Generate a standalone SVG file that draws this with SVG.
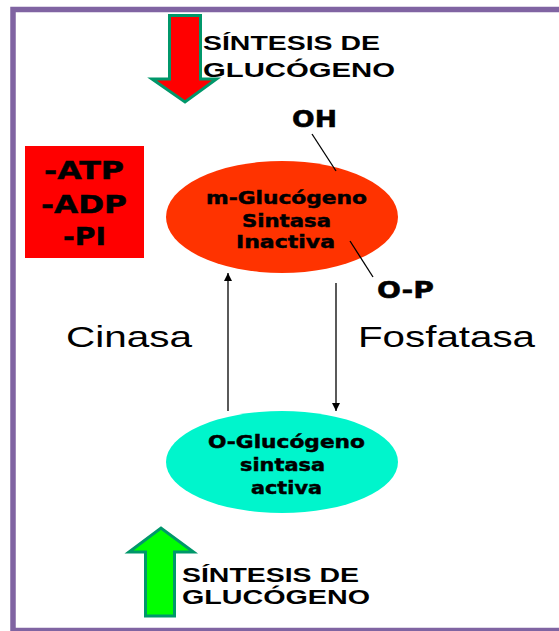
<svg xmlns="http://www.w3.org/2000/svg" width="559" height="631" viewBox="0 0 559 631">
<defs>
<style>
.t{font-family:"Liberation Sans",Arial,sans-serif;font-weight:bold;fill:#000}
.v{font-family:"DejaVu Sans",Verdana,sans-serif;font-weight:bold;fill:#000;stroke:#000;stroke-width:0.45}
.r{font-family:"Liberation Sans",Arial,sans-serif;font-weight:normal;fill:#000}
.ln{stroke:#000;stroke-width:1.3;fill:none}
.big{stroke:#00976A;stroke-width:3;stroke-linejoin:miter}
</style>
<marker id="ah" viewBox="0 0 10 10" refX="10" refY="5" markerWidth="8" markerHeight="8" markerUnits="userSpaceOnUse" orient="auto">
<path d="M0,0 L10,5 L0,10 z" fill="#000"/>
</marker>
</defs>
<rect x="0" y="0" width="559" height="631" fill="#fff"/>
<rect x="13" y="9.5" width="560" height="621" fill="none" stroke="#8064A2" stroke-width="5.5"/>

<g id="top-arrow">
<path class="big" d="M169.5,15.5 L200.5,15.5 L200.5,79 L216.5,79 L185,102 L152,79 L169.5,79 Z" fill="#FF0000"/>
<text class="t" x="203" y="50" font-size="21" textLength="177" lengthAdjust="spacingAndGlyphs">SÍNTESIS DE</text>
<text class="t" x="203" y="77" font-size="21" textLength="192" lengthAdjust="spacingAndGlyphs">GLUCÓGENO</text>
</g>

<g id="cofactors">
<rect x="25" y="146" width="119" height="112" fill="#FF0000"/>
<text class="v" x="84" y="179" font-size="25" text-anchor="middle" textLength="80" lengthAdjust="spacingAndGlyphs">-ATP</text>
<text class="v" x="84" y="213" font-size="25" text-anchor="middle" textLength="86" lengthAdjust="spacingAndGlyphs">-ADP</text>
<text class="v" x="84.5" y="245" font-size="25" text-anchor="middle" textLength="43" lengthAdjust="spacingAndGlyphs">-PI</text>
</g>

<g id="inactive">
<ellipse cx="282" cy="217" rx="116" ry="56" fill="#FF3300"/>
<text class="v" x="286.5" y="204" font-size="17" text-anchor="middle" textLength="161" lengthAdjust="spacingAndGlyphs">m-Glucógeno</text>
<text class="v" x="286.5" y="227" font-size="17" text-anchor="middle" textLength="89" lengthAdjust="spacingAndGlyphs">Sintasa</text>
<text class="v" x="285.5" y="248" font-size="17" text-anchor="middle" textLength="99" lengthAdjust="spacingAndGlyphs">Inactiva</text>
</g>

<g id="oh">
<text class="v" x="292" y="127" font-size="23" textLength="45" lengthAdjust="spacingAndGlyphs">OH</text>
</g>
<g id="op">
<text class="v" x="377" y="298" font-size="23" textLength="57" lengthAdjust="spacingAndGlyphs">O-P</text>
</g>

<g id="cinasa">
<text class="r" x="66" y="347" font-size="30" textLength="126" lengthAdjust="spacingAndGlyphs">Cinasa</text>
</g>
<g id="fosfatasa">
<text class="r" x="358" y="347" font-size="30" textLength="177" lengthAdjust="spacingAndGlyphs">Fosfatasa</text>
</g>

<g id="active">
<ellipse cx="282" cy="462" rx="116" ry="51" fill="#00F5CC"/>
<text class="v" x="286.5" y="448" font-size="17" text-anchor="middle" textLength="157" lengthAdjust="spacingAndGlyphs">O-Glucógeno</text>
<text class="v" x="282.5" y="471" font-size="17" text-anchor="middle" textLength="85" lengthAdjust="spacingAndGlyphs">sintasa</text>
<text class="v" x="286.5" y="494" font-size="17" text-anchor="middle" textLength="71" lengthAdjust="spacingAndGlyphs">activa</text>
</g>

<g id="bottom-arrow">
<path class="big" d="M145.5,616 L174.5,616 L174.5,552 L193.5,552 L161,528 L129,552 L145.5,552 Z" fill="#00FF00"/>
<text class="t" x="182" y="582" font-size="21" textLength="177" lengthAdjust="spacingAndGlyphs">SÍNTESIS DE</text>
<text class="t" x="182" y="604" font-size="21" textLength="188" lengthAdjust="spacingAndGlyphs">GLUCÓGENO</text>
</g>

<g id="connectors">
<line class="ln" x1="228" y1="411" x2="228" y2="273" marker-end="url(#ah)"/>
<line class="ln" x1="336" y1="283" x2="336" y2="411" marker-end="url(#ah)"/>
<line class="ln" x1="312" y1="134" x2="336" y2="171"/>
<line class="ln" x1="350" y1="241" x2="373" y2="277"/>
</g>
</svg>
